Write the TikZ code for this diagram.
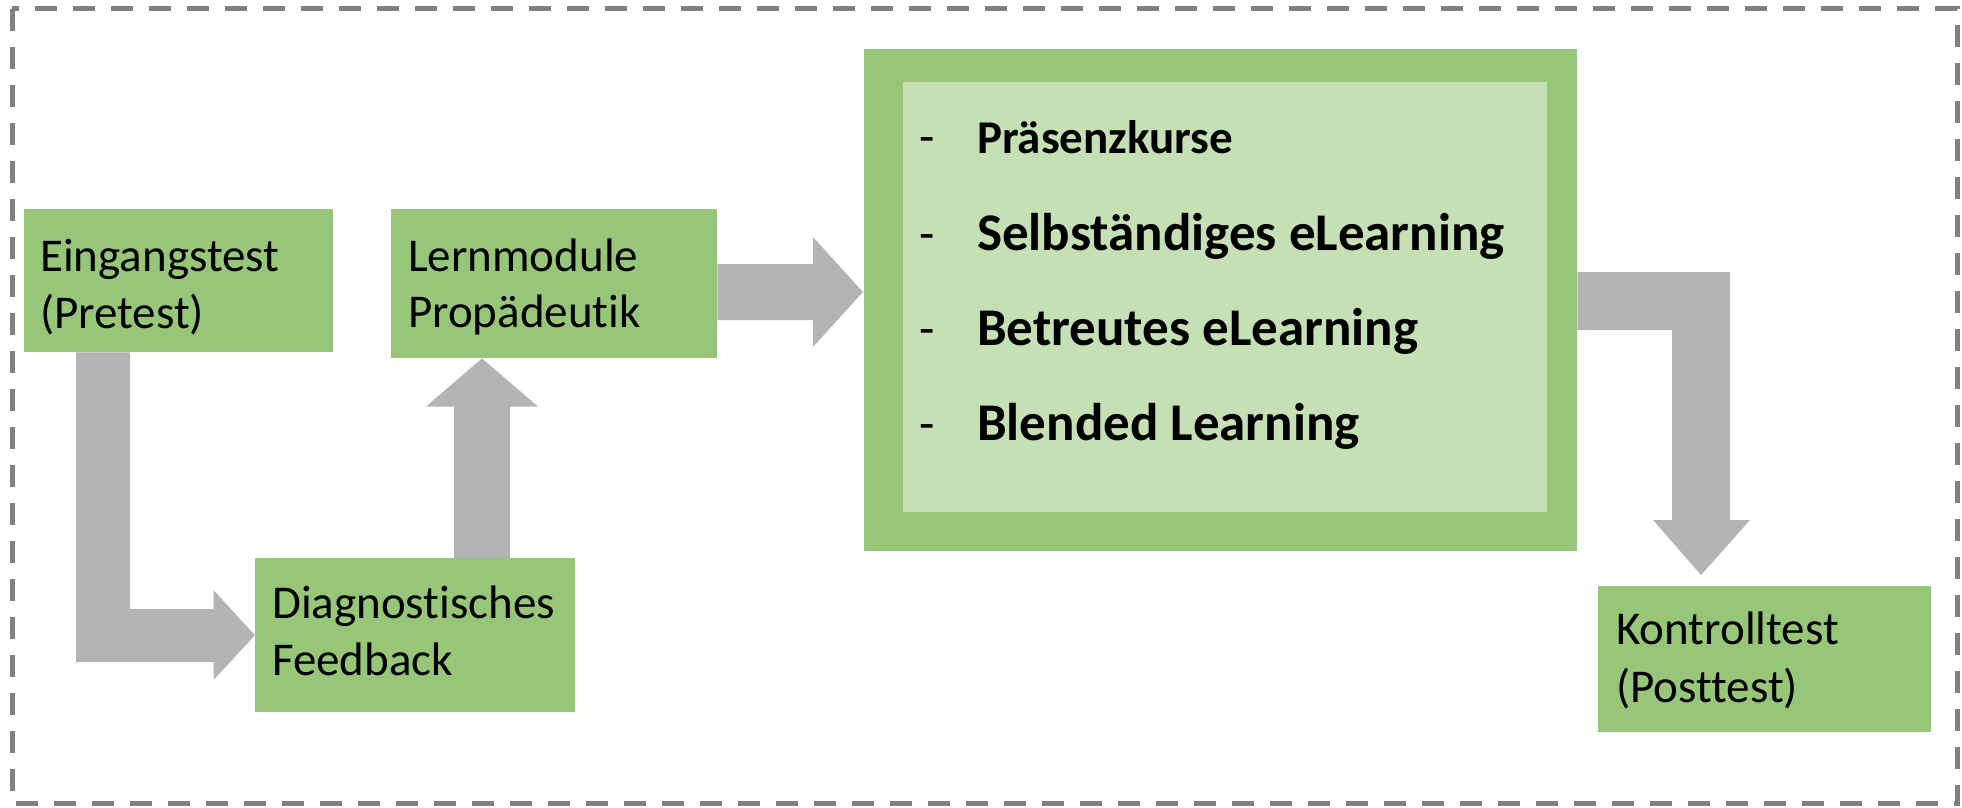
\documentclass[tikz,border=0pt]{standalone}
\usepackage{fontspec}
\setmainfont{Carlito}[Ligatures=NoCommon,RawFeature=-liga]
\usetikzlibrary{calc}
\definecolor{boxgreen}{HTML}{97C678}
\definecolor{innergreen}{HTML}{C5E0B4}
\definecolor{arrowgray}{HTML}{B5B4B5}
\definecolor{bordergray}{HTML}{808080}
\begin{document}
\begin{tikzpicture}[x=1pt,y=-1pt,
  box/.style={fill=boxgreen, draw=none, inner sep=0pt, anchor=north west},
  lbl/.style={anchor=base west, inner sep=0pt, font=\fontsize{47}{56}\selectfont},
  itemsmall/.style={anchor=base west, inner sep=0pt, font=\fontsize{47}{56}\selectfont\bfseries},
  itembig/.style={anchor=base west, inner sep=0pt, font=\fontsize{53}{60}\selectfont\bfseries},
  dashmark/.style={anchor=base west, inner sep=0pt, font=\fontsize{50}{56}\selectfont},
  blockarrow/.style={fill=arrowgray, draw=none}]
\useasboundingbox (0,0) rectangle (1962,807);
\draw[bordergray, line width=5pt, dash pattern=on 22pt off 16pt] (12,8.5) rectangle (1957,803);

% boxes
\node[box, minimum width=309pt, minimum height=143pt] (ein) at (24,209) {};
\node[box, minimum width=326pt, minimum height=149pt] (lern) at (391,209) {};
\node[box, minimum width=320pt, minimum height=154pt] (diag) at (255,558) {};
\node[box, minimum width=713pt, minimum height=502pt] (big) at (864,49) {};
\node[fill=innergreen, draw=none, inner sep=0pt, anchor=north west, minimum width=644pt, minimum height=430pt] (inner) at (903,82) {};
\node[box, minimum width=333pt, minimum height=146pt] (kon) at (1598,586) {};

% labels
\node[lbl] (t1a) at (40,271) {Eingangstest};
\node[lbl] (t1b) at (40,328) {(Pretest)};
\node[lbl] (t2a) at (408,271) {Lernmodule};
\node[lbl] (t2b) at (408,327) {Propädeutik};
\node[lbl] (t3a) at (272,618) {Diagnostisches};
\node[lbl] (t3b) at (272,675) {Feedback};
\node[lbl] (t4a) at (1616,644) {Kontrolltest};
\node[lbl] (t4b) at (1616,702) {(Posttest)};

% list
\node[dashmark] (d1) at (919,153) {-};
\node[dashmark] (d2) at (919,250) {-};
\node[dashmark] (d3) at (919,345) {-};
\node[dashmark] (d4) at (919,440) {-};
\node[itemsmall] (i1) at (977,153) {Präsenzkurse};
\node[itembig] (i2) at (977,250) {Selbständiges eLearning};
\node[itembig] (i3) at (977,345) {Betreutes eLearning};
\node[itembig] (i4) at (977,440) {Blended Learning};

% block arrows
\fill[blockarrow] ($(ein.south west)+(52,0)$) -- ($(ein.south west)+(106,0)$) -- (130,609) -- (213.5,609) -- (213.5,590) -- (diag.west) -- (213.5,680) -- (213.5,662) -- (76,662) -- cycle;
\fill[blockarrow] ($(diag.north west)+(199,0)$) -- (454,406.5) -- (426,406.5) -- ($(lern.south west)+(91,0)$) -- (538,406.5) -- (510,406.5) -- ($(diag.north west)+(255,0)$) -- cycle;
\fill[blockarrow] ($(lern.north east)+(0,55)$) -- (813,264) -- (813,237) -- ($(big.north west)+(-1,243)$) -- (813,347) -- (813,320) -- ($(lern.north east)+(0,111)$) -- cycle;
\fill[blockarrow] ($(big.north east)+(0,223)$) -- (1730,272) -- (1730,520) -- (1750,520) -- ($(kon.north west)+(103,-11)$) -- (1653,520) -- (1672,520) -- (1672,330) -- ($(big.north east)+(0,281)$) -- cycle;
\end{tikzpicture}
\end{document}
